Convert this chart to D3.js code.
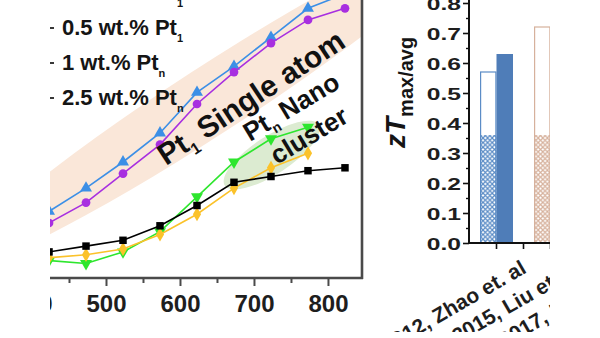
<!DOCTYPE html>
<html>
<head>
<meta charset="utf-8">
<script src="https://cdn.jsdelivr.net/npm/d3@7"></script>
<style>
  html, body { margin: 0; padding: 0; background: #fff; }
  svg { display: block; font-family: "Liberation Sans", Arial, sans-serif; }
</style>
</head>
<body>
<svg id="chart" width="600" height="338"></svg>
<script>
// ---- zT vs temperature (K) ----
const temperatures = [423, 473, 523, 573, 623, 673, 723, 773, 823];
const pristine   = [0.09, 0.11, 0.13, 0.18, 0.25, 0.33, 0.35, 0.37, 0.38];
const pt1_01     = [0.23, 0.31, 0.40, 0.50, 0.64, 0.73, 0.83, 0.93, 0.98];
const pt1_05     = [0.19, 0.26, 0.36, 0.46, 0.60, 0.71, 0.81, 0.89, 0.93];
const ptn_1      = [0.06, 0.05, 0.09, 0.16, 0.28, 0.40, 0.48, 0.52];
const ptn_25     = [0.07, 0.08, 0.10, 0.15, 0.22, 0.31, 0.38, 0.43];
const tempTicks  = [400, 500, 600, 700, 800];
const tempMinor  = [450, 550, 650, 750];

// legend entries: [main text, subscript]
const legendMain = ["Pristine", "0.1 wt.% Pt", "0.5 wt.% Pt", "1 wt.% Pt", "2.5 wt.% Pt"];
const legendSub  = ["", "1", "1", "n", "n"];

// ---- literature comparison (zT max / avg) ----
const refLabels  = ["2012, Zhao et. al", "2015, Liu et. al", "2017, Kim et. al"];
const refAvg     = [0.36, 0.36];
const refMax     = [0.57, 0.72];
const refPeak    = [0.63];
const zTicks     = [0, 0.1, 0.2, 0.3, 0.4, 0.5, 0.6, 0.7, 0.8];
const zTickText  = ["0.0", "0.1", "0.2", "0.3", "0.4", "0.5", "0.6", "0.7", "0.8"];

const svg = d3.select("#chart");
const defs = svg.append("defs");
defs.append("clipPath").attr("id", "frame")
  .append("rect").attr("x", 50).attr("y", 0).attr("width", 500).attr("height", 332);
defs.append("clipPath").attr("id", "plotArea")
  .append("rect").attr("x", 0).attr("y", -60).attr("width", 362).attr("height", 338);

function crossHatch(id, color) {
  const s = 4.6;
  const p = defs.append("pattern").attr("id", id)
    .attr("patternUnits", "userSpaceOnUse").attr("width", s).attr("height", s);
  p.append("rect").attr("width", s).attr("height", s).attr("fill", "#fff");
  p.append("path")
    .attr("d", `M-1,-1L${s + 1},${s + 1}M${s + 1},-1L-1,${s + 1}`)
    .attr("stroke", color).attr("stroke-width", 1.2).attr("fill", "none");
}
crossHatch("hatchBlue", "#5b8cc6");
crossHatch("hatchBrown", "#d6b19c");

const root = svg.append("g").attr("clip-path", "url(#frame)");

// ================= left panel =================
const x = d3.scaleLinear().domain([400, 846]).range([32, 362]);
const y = d3.scaleLinear().domain([0, 1]).range([278, -12]);

const plot = root.append("g").attr("clip-path", "url(#plotArea)");

// shaded groupings
const singleC = [x(640), y(0.61)];
plot.append("ellipse")
  .attr("cx", singleC[0]).attr("cy", singleC[1]).attr("rx", 300).attr("ry", 34)
  .attr("transform", `rotate(-33 ${singleC[0]} ${singleC[1]})`)
  .attr("fill", "#fae7d9");
const clusterC = [x(724), y(0.424)];
plot.append("ellipse")
  .attr("cx", clusterC[0]).attr("cy", clusterC[1]).attr("rx", 56).attr("ry", 19)
  .attr("transform", `rotate(-33 ${clusterC[0]} ${clusterC[1]})`)
  .attr("fill", "#dcebd1");

const series = [
  { values: ptn_1,    color: "#2ee62e", symbol: d3.symbolTriangle, size: 62, rot: 180 },
  { values: ptn_25,   color: "#fbc22a", symbol: d3.symbolDiamond,  size: 58, rot: 0 },
  { values: pristine, color: "#000000", symbol: d3.symbolSquare,   size: 56, rot: 0 },
  { values: pt1_01,   color: "#3c8fe6", symbol: d3.symbolTriangle, size: 62, rot: 0 },
  { values: pt1_05,   color: "#a82fe0", symbol: d3.symbolCircle,   size: 60, rot: 0 }
];
const line = d3.line().x((d, i) => x(temperatures[i])).y(d => y(d));

series.forEach(s => {
  plot.append("path").datum(s.values)
    .attr("d", line).attr("fill", "none")
    .attr("stroke", s.color).attr("stroke-width", 1.6);
  plot.selectAll(null).data(s.values).join("path")
    .attr("d", d3.symbol(s.symbol, s.size))
    .attr("transform", (d, i) => `translate(${x(temperatures[i])},${y(d)}) rotate(${s.rot})`)
    .attr("fill", s.color);
});

// annotations
const t1 = plot.append("text")
  .attr("transform", `translate(166,166) rotate(-33.5)`)
  .attr("font-size", 30).attr("font-weight", "bold").attr("fill", "#111");
t1.append("tspan").text("Pt");
t1.append("tspan").attr("font-size", 16).attr("dy", 7).text("1");
t1.append("tspan").attr("dy", -7).text(" Single atom");

const t2 = plot.append("text")
  .attr("transform", `translate(250,142) rotate(-31)`)
  .attr("font-size", 26).attr("font-weight", "bold").attr("fill", "#111");
t2.append("tspan").text("Pt");
t2.append("tspan").attr("font-size", 14).attr("dy", 6).text("n");
t2.append("tspan").attr("dy", -6).text(" Nano");
plot.append("text")
  .attr("transform", `translate(277,165) rotate(-31)`)
  .attr("font-size", 26).attr("font-weight", "bold").attr("fill", "#111")
  .text("cluster");

// legend
const legendBase = 104.5, legendStep = 35;
legendMain.forEach((label, i) => {
  const by = legendBase - (legendMain.length - 1 - i) * legendStep;
  root.append("line").attr("x1", 22).attr("x2", 54).attr("y1", by - 6.5).attr("y2", by - 6.5)
    .attr("stroke", "#222").attr("stroke-width", 1.8);
  const t = root.append("text").attr("x", 62).attr("y", by)
    .attr("font-size", 22).attr("font-weight", "bold").attr("fill", "#151515");
  t.append("tspan").text(label);
  if (legendSub[i]) t.append("tspan").attr("font-size", 11).attr("dy", 7).text(legendSub[i]);
});

// axes frame
root.append("line").attr("x1", 0).attr("x2", 363).attr("y1", 278).attr("y2", 278)
  .attr("stroke", "#4a4a4a").attr("stroke-width", 2.6);
root.append("line").attr("x1", 362).attr("x2", 362).attr("y1", -5).attr("y2", 279)
  .attr("stroke", "#4a4a4a").attr("stroke-width", 2.6);

const xAxis = root.append("g").attr("transform", "translate(0,278)")
  .call(d3.axisBottom(x).tickValues(tempTicks).tickSize(8).tickPadding(9).tickFormat(d3.format("d")));
xAxis.select(".domain").remove();
xAxis.selectAll(".tick line").attr("stroke", "#4a4a4a").attr("stroke-width", 2);
xAxis.selectAll(".tick text")
  .attr("font-size", 24).attr("font-weight", "bold").attr("fill", "#1e1e1e")
  .attr("font-family", "Liberation Sans, Arial, sans-serif");
const xMinor = root.append("g").attr("transform", "translate(0,278)")
  .call(d3.axisBottom(x).tickValues(tempMinor).tickSize(5).tickFormat(""));
xMinor.select(".domain").remove();
xMinor.selectAll(".tick line").attr("stroke", "#4a4a4a").attr("stroke-width", 2);

// ================= right panel =================
const yR = d3.scaleLinear().domain([0, 0.8]).range([243, 3]);
const xR = d3.scaleBand().domain(refLabels).range([469.5, 631.5]);
const barW = 16.5;
const center = c => xR(c) + xR.bandwidth() / 2;

const bars = root.append("g");
refAvg.forEach((v, i) => {
  const c = center(refLabels[i]);
  const col = i === 0 ? "#5b8cc6" : "#d6b19c";
  bars.append("rect").attr("x", c - barW).attr("width", barW)
    .attr("y", yR(refMax[i])).attr("height", yR(0) - yR(refMax[i]))
    .attr("fill", "#fff");
  bars.append("rect").attr("x", c - barW).attr("width", barW)
    .attr("y", yR(v)).attr("height", yR(0) - yR(v))
    .attr("fill", i === 0 ? "url(#hatchBlue)" : "url(#hatchBrown)");
  bars.append("rect").attr("x", c - barW + 0.6).attr("width", barW - 1.2)
    .attr("y", yR(refMax[i])).attr("height", yR(0) - yR(refMax[i]))
    .attr("fill", "none").attr("stroke", col).attr("stroke-width", 1.2);
});
refPeak.forEach((v, i) => {
  const c = center(refLabels[i]);
  bars.append("rect").attr("x", c).attr("width", barW)
    .attr("y", yR(v)).attr("height", yR(0) - yR(v))
    .attr("fill", "#4f7db8");
});

// y axis
const yAxisR = root.append("g").attr("transform", "translate(469,0)")
  .call(d3.axisLeft(yR).tickValues(zTicks).tickSize(6).tickFormat((d, i) => zTickText[i]));
yAxisR.select(".domain").remove();
yAxisR.selectAll(".tick line").attr("stroke", "#111").attr("stroke-width", 1.6);
yAxisR.selectAll(".tick text")
  .attr("x", null).attr("dy", null).attr("text-anchor", "end")
  .attr("transform", "translate(-8,6) scale(1.45,1)")
  .attr("font-size", 17).attr("font-weight", "bold").attr("fill", "#1e1e1e")
  .attr("font-family", "Liberation Sans, Arial, sans-serif");
const yMinorR = root.append("g").attr("transform", "translate(469,0)")
  .call(d3.axisLeft(yR).tickValues(d3.range(0.05, 0.8, 0.1)).tickSize(3).tickFormat(""));
yMinorR.select(".domain").remove();
yMinorR.selectAll(".tick line").attr("stroke", "#111").attr("stroke-width", 1.4);
root.append("line").attr("x1", 469).attr("x2", 469).attr("y1", -5).attr("y2", 244)
  .attr("stroke", "#111").attr("stroke-width", 2);

// x axis
root.append("line").attr("x1", 468).attr("x2", 600).attr("y1", 243).attr("y2", 243)
  .attr("stroke", "#111").attr("stroke-width", 2);
const xTickPos = refLabels.flatMap(c => [center(c), xR(c) + xR.bandwidth()]);
root.selectAll(null).data(xTickPos).join("line")
  .attr("x1", d => d).attr("x2", d => d).attr("y1", 243).attr("y2", 249)
  .attr("stroke", "#111").attr("stroke-width", 1.6);
root.selectAll(null).data(refLabels).join("text")
  .attr("transform", d => `translate(${center(d) + 31},272) rotate(-30)`)
  .attr("text-anchor", "end").attr("font-size", 21).attr("font-weight", "bold")
  .attr("fill", "#1e1e1e").text(d => d);

// axis title
const zt = root.append("text").attr("transform", "translate(405,148) rotate(-90)")
  .attr("fill", "#151515").attr("font-weight", "bold");
zt.append("tspan").attr("font-size", 28).attr("font-style", "italic").text("zT");
zt.append("tspan").attr("font-size", 20).attr("dy", 8).text("max/avg");
</script>
</body>
</html>
